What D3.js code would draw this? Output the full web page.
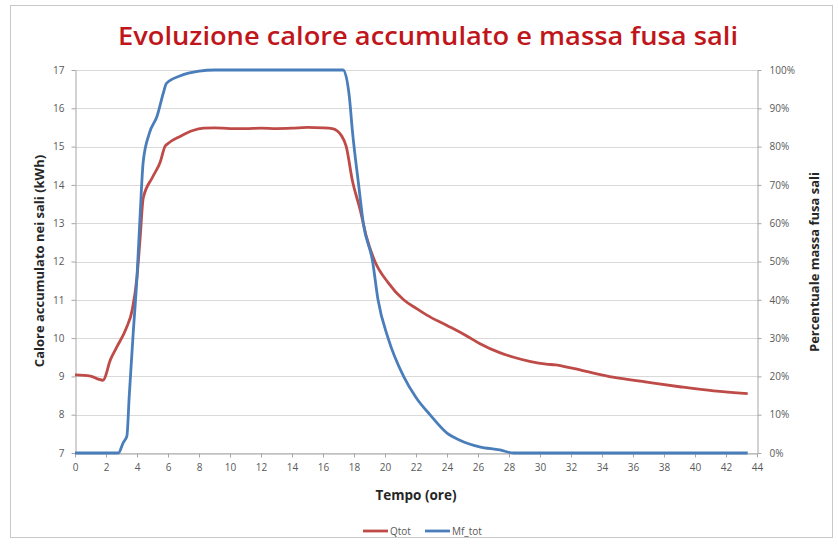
<!DOCTYPE html>
<html>
<head>
<meta charset="utf-8">
<script src="https://cdn.jsdelivr.net/npm/d3@7"></script>
<style>
  body { margin: 0; background: #fff; }
  svg text { font-family: "Open Sans", "Noto Sans", sans-serif; }
</style>
</head>
<body>
<div id="chart"></div>
<script>
"use strict";

// Qtot (kWh)
let qtotHours = [0, 1.0, 1.5, 1.8, 2.3, 2.7, 3.3, 3.7, 4.0, 4.2, 4.4, 5.0, 5.5, 5.8, 6.0, 6.8, 7.6, 8.3, 9, 10, 11, 12, 13, 14, 15, 16, 16.6, 17.2, 17.5, 17.9, 18.4, 18.8, 19.35, 20.2, 21.2, 22.0, 22.7, 24.0, 25.3, 26.1, 27.4, 28.3, 30.4, 31.0, 32.0, 33.4, 34.7, 36.9, 39.0, 41.2, 43.4];
let qtotValues = [9.04, 9.01, 8.93, 8.9, 9.45, 9.77, 10.25, 10.75, 11.6, 12.6, 13.65, 14.2, 14.6, 15.0, 15.08, 15.27, 15.42, 15.48, 15.49, 15.47, 15.47, 15.48, 15.47, 15.48, 15.5, 15.49, 15.47, 15.28, 15.0, 14.1, 13.35, 12.65, 12.0, 11.45, 11.0, 10.78, 10.6, 10.33, 10.05, 9.86, 9.62, 9.5, 9.32, 9.3, 9.22, 9.09, 8.98, 8.85, 8.73, 8.62, 8.55];

// Mf_tot (% molten mass)
let mfHours = [0, 2.8, 3.1, 3.35, 3.5, 3.75, 4.0, 4.2, 4.4, 4.8, 5.3, 5.7, 5.9, 6.8, 8.0, 9, 17.3, 17.7, 17.9, 18.3, 18.6, 19.2, 19.55, 20.2, 21.2, 22.0, 22.9, 24.0, 24.8, 26.1, 27.4, 28.3, 43.4];
let mfValues = [0, 0, 2.6, 4.5, 15, 31, 46, 62, 76, 83.5, 88, 94, 96.5, 98.5, 99.7, 100, 100, 93, 84, 70, 60, 50, 40, 30, 20, 14.5, 10, 5.2, 3.4, 1.6, 0.8, 0, 0];

let xTicks = d3.range(0, 45, 2);
let leftTicks = d3.range(7, 18, 1);
let rightTicks = d3.range(0, 101, 10);

let seriesNames = ["Qtot", "Mf_tot"];
let seriesColors = ["#BE4B48", "#4A7EBB"];

const W = 838, H = 546;
const plot = { left: 75, right: 757, top: 70, bottom: 453 };

let svg = d3.select("#chart").append("svg")
    .attr("width", W)
    .attr("height", H);

// chart frame
svg.append("rect")
    .attr("x", 10.5).attr("y", 5.5)
    .attr("width", 822).attr("height", 532)
    .attr("fill", "#fff")
    .attr("stroke", "#c8c8c8");

let x = d3.scaleLinear().domain([0, 44]).range([plot.left, plot.right]);
let yL = d3.scaleLinear().domain([7, 17]).range([plot.bottom, plot.top]);
let yR = d3.scaleLinear().domain([0, 100]).range([plot.bottom, plot.top]);

// gridlines
svg.append("g")
    .selectAll("line")
    .data(leftTicks)
    .join("line")
    .attr("x1", plot.left).attr("x2", plot.right)
    .attr("y1", d => Math.round(yL(d)) + 0.5)
    .attr("y2", d => Math.round(yL(d)) + 0.5)
    .attr("stroke", "#d9d9d9");

function styleAxis(g) {
    g.select(".domain").attr("stroke", "#a6a6a6");
    g.selectAll(".tick line").attr("stroke", "#a6a6a6");
    g.selectAll(".tick text")
        .attr("fill", "#595959")
        .style("font-size", "10px");
}

svg.append("g")
    .attr("transform", `translate(0,${plot.bottom + 0.5})`)
    .call(d3.axisBottom(x).tickValues(xTicks).tickSize(4).tickSizeOuter(0).tickPadding(6))
    .call(styleAxis);

svg.append("g")
    .attr("transform", `translate(${plot.left + 0.5},0)`)
    .call(d3.axisLeft(yL).tickValues(leftTicks).tickSize(4).tickSizeOuter(0).tickPadding(7))
    .call(styleAxis);

svg.append("g")
    .attr("transform", `translate(${plot.right + 0.5},0)`)
    .call(d3.axisRight(yR).tickValues(rightTicks).tickFormat(d => d + "%").tickSize(4).tickSizeOuter(0).tickPadding(8))
    .call(styleAxis);

// series lines
let qLine = d3.line()
    .x((d, i) => x(qtotHours[i]))
    .y(d => yL(d))
    .curve(d3.curveMonotoneX);

let mLine = d3.line()
    .x((d, i) => x(mfHours[i]))
    .y(d => yR(d))
    .curve(d3.curveMonotoneX);

svg.append("path")
    .datum(qtotValues)
    .attr("d", qLine)
    .attr("fill", "none")
    .attr("stroke", seriesColors[0])
    .attr("stroke-width", 2.8)
    .attr("stroke-linejoin", "round");

svg.append("path")
    .datum(mfValues)
    .attr("d", mLine)
    .attr("fill", "none")
    .attr("stroke", seriesColors[1])
    .attr("stroke-width", 2.8)
    .attr("stroke-linejoin", "round");

// title
svg.append("text")
    .attr("x", 428).attr("y", 45)
    .attr("text-anchor", "middle")
    .attr("fill", "#C0161B")
    .attr("textLength", 620)
    .attr("lengthAdjust", "spacingAndGlyphs")
    .style("font-size", "26px")
    .style("font-weight", "600")
    .text("Evoluzione calore accumulato e massa fusa sali");

// axis titles
svg.append("text")
    .attr("transform", "translate(39,261) rotate(-90)")
    .attr("text-anchor", "middle")
    .attr("dy", "0.35em")
    .attr("fill", "#262626")
    .style("font-size", "13px")
    .style("font-weight", "bold")
    .text("Calore accumulato nei sali (kWh)");

svg.append("text")
    .attr("transform", "translate(814,262) rotate(-90)")
    .attr("text-anchor", "middle")
    .attr("dy", "0.35em")
    .attr("fill", "#262626")
    .style("font-size", "13px")
    .style("font-weight", "bold")
    .text("Percentuale massa fusa sali");

svg.append("text")
    .attr("x", 416).attr("y", 495)
    .attr("text-anchor", "middle")
    .attr("dy", "0.35em")
    .attr("fill", "#262626")
    .style("font-size", "13.5px")
    .style("font-weight", "bold")
    .text("Tempo (ore)");

// legend
let legend = svg.append("g")
    .selectAll("g")
    .data(seriesNames)
    .join("g")
    .attr("transform", (d, i) => `translate(${[363, 425][i]},531)`);

legend.append("line")
    .attr("x1", 0).attr("x2", 25)
    .attr("stroke", (d, i) => seriesColors[i])
    .attr("stroke-width", 2.8);

legend.append("text")
    .attr("x", 27)
    .attr("dy", "0.35em")
    .attr("fill", "#595959")
    .style("font-size", "10px")
    .text(d => d);
</script>
</body>
</html>
